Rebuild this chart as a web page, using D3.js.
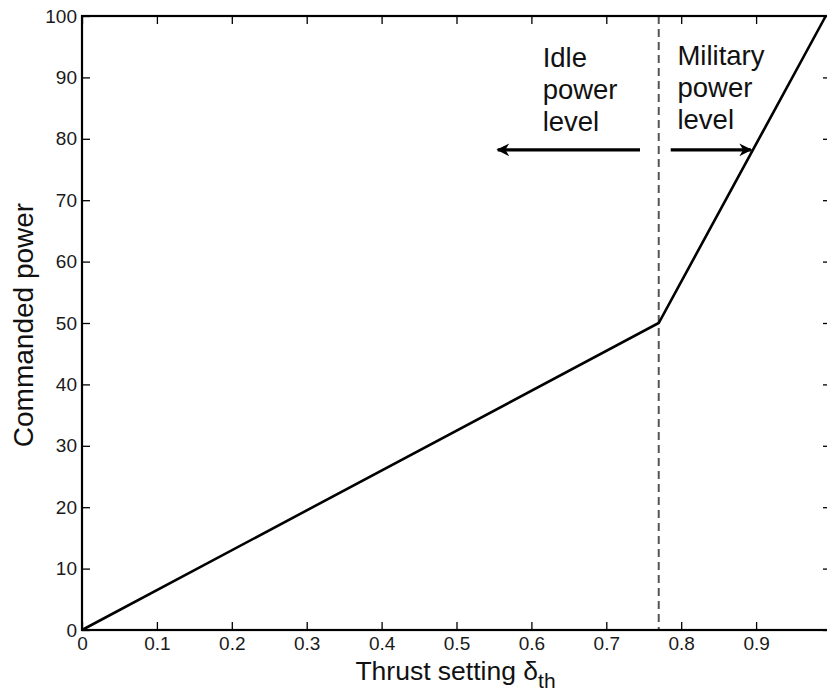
<!DOCTYPE html>
<html><head><meta charset="utf-8">
<script src="https://cdn.jsdelivr.net/npm/d3@7"></script>
<style>
html,body{margin:0;padding:0;background:#fff;}
svg{display:block;}
text{font-family:"Liberation Sans",Arial,Helvetica,sans-serif;}
</style></head>
<body><svg id="c" width="827" height="694"></svg>
<script>
// ---- data ----
const thrust = [0, 0.77, 0.993];
const power = [0, 50, 100];
const breakpoint = 0.77;
const xTicks = [0, 0.1, 0.2, 0.3, 0.4, 0.5, 0.6, 0.7, 0.8, 0.9, 1.0];
const xTickLabels = ["0", "0.1", "0.2", "0.3", "0.4", "0.5", "0.6", "0.7", "0.8", "0.9", ""];
const yTicks = [0, 10, 20, 30, 40, 50, 60, 70, 80, 90, 100];
const idleLines = ["Idle", "power", "level"];
const milLines = ["Military", "power", "level"];
const idleAnchor = [0.615, 91.7];
const milAnchor = [0.795, 92.0];
const idleArrow = [[0.745, 78.2], [0.555, 78.2]];
const milArrow = [[0.786, 78.2], [0.893, 78.2]];

const svg = d3.select("#c");
const x = d3.scaleLinear([0, 1], [82, 831]);
const y = d3.scaleLinear([0, 100], [630, 16]);

svg.append("defs").append("marker")
  .attr("id", "ah").attr("viewBox", "0 0 10 10").attr("refX", 9).attr("refY", 5)
  .attr("markerWidth", 5).attr("markerHeight", 4).attr("markerUnits", "strokeWidth")
  .attr("orient", "auto")
  .append("path").attr("d", "M0,0 L10,5 L0,10 L3,5 Z").attr("fill", "#000");

// axes
const tickColor = "#1a1a1a";
const gx = svg.append("g").attr("transform", `translate(0,${y(0)})`)
  .call(d3.axisBottom(x).tickValues(xTicks).tickFormat((d, i) => xTickLabels[i]).tickSizeInner(-8).tickSizeOuter(0).tickPadding(7));
const gxt = svg.append("g").attr("transform", `translate(0,${y(100)})`)
  .call(d3.axisTop(x).tickValues(xTicks).tickFormat("").tickSizeInner(-8).tickSizeOuter(0));
const gy = svg.append("g").attr("transform", `translate(${x(0)},0)`)
  .call(d3.axisLeft(y).tickValues(yTicks).tickSizeInner(-8).tickSizeOuter(0).tickPadding(5));
const gyr = svg.append("g").attr("transform", `translate(${x(1)},0)`)
  .call(d3.axisRight(y).tickValues(yTicks).tickFormat("").tickSizeInner(-8).tickSizeOuter(0));
[gx, gxt, gy, gyr].forEach(g => {
  g.select(".domain").remove();
  g.selectAll("line").attr("stroke", "#000").attr("stroke-width", 1.3);
  g.selectAll("text").attr("font-size", 19).attr("fill", tickColor)
    .style("font-family", '"Liberation Sans",Arial,sans-serif');
});

// dashed breakpoint
svg.append("line")
  .attr("x1", x(breakpoint)).attr("x2", x(breakpoint))
  .attr("y1", y(100)).attr("y2", y(0))
  .attr("stroke", "#555").attr("stroke-width", 2).attr("stroke-dasharray", "8,5");

// box
svg.append("rect").attr("x", x(0)).attr("y", y(100))
  .attr("width", x(1) - x(0)).attr("height", y(0) - y(100))
  .attr("fill", "none").attr("stroke", "#000").attr("stroke-width", 2.2);

// curve
const pts = thrust.map((t, i) => [t, power[i]]);
svg.append("path").datum(pts)
  .attr("d", d3.line().x(d => x(d[0])).y(d => y(d[1])))
  .attr("fill", "none").attr("stroke", "#000").attr("stroke-width", 2.6).attr("stroke-linejoin", "miter");

// annotations
function annot(lines, anchor) {
  const t = svg.append("text").attr("x", x(anchor[0])).attr("y", y(anchor[1]))
    .attr("font-size", 27.5).attr("fill", "#111");
  lines.forEach((s, i) => t.append("tspan").attr("x", x(anchor[0])).attr("dy", i === 0 ? 0 : 32).text(s));
}
annot(idleLines, idleAnchor);
annot(milLines, milAnchor);
[idleArrow, milArrow].forEach(a => {
  svg.append("line")
    .attr("x1", x(a[0][0])).attr("y1", y(a[0][1]))
    .attr("x2", x(a[1][0])).attr("y2", y(a[1][1]))
    .attr("stroke", "#000").attr("stroke-width", 3.2).attr("marker-end", "url(#ah)");
});

// axis titles
const xt = svg.append("text").attr("x", (x(0) + x(1)) / 2 - 1).attr("y", 680)
  .attr("text-anchor", "middle").attr("font-size", 26.5).attr("fill", "#111");
xt.append("tspan").text("Thrust setting δ");
xt.append("tspan").attr("font-size", 21).attr("dy", 8).text("th");

svg.append("text").attr("transform", `translate(33,${(y(0) + y(100)) / 2 + 2}) rotate(-90)`)
  .attr("text-anchor", "middle").attr("font-size", 28).attr("fill", "#111")
  .text("Commanded power");
</script></body></html>
